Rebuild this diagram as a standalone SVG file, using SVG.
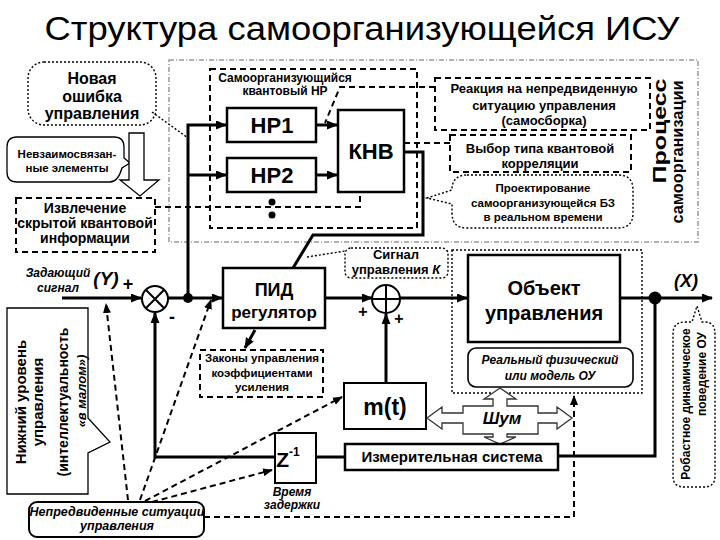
<svg xmlns="http://www.w3.org/2000/svg" width="720" height="540" viewBox="0 0 720 540">
<defs>
<style>
text{font-family:'Liberation Sans',Arial,sans-serif;font-weight:bold;fill:#000;text-anchor:middle}
.t{font-weight:normal}
.i{font-style:italic}
.box{fill:#fff;stroke:#000;stroke-width:2.5}
.dash{fill:none;stroke:#000;stroke-width:2;stroke-dasharray:6 4}
.dot{fill:none;stroke:#000;stroke-width:1.4;stroke-dasharray:2 2}
.gray{fill:none;stroke:#999;stroke-width:1.5;stroke-dasharray:5 2 1 2}
.thin{fill:#fff;stroke:#000;stroke-width:1.3}
.w{fill:none;stroke:#000;stroke-width:3}
</style>
<marker id="ah" markerUnits="userSpaceOnUse" markerWidth="11" markerHeight="9" refX="10" refY="4.5" orient="auto"><path d="M0,0 L11,4.5 L0,9 Z"/></marker>
<marker id="ad" markerUnits="userSpaceOnUse" markerWidth="10" markerHeight="8" refX="9" refY="4" orient="auto"><path d="M0,0 L10,4 L0,8 Z"/></marker>
</defs>
<rect width="720" height="540" fill="#fff"/>
<text class="t" x="362" y="40" font-size="34" textLength="635" lengthAdjust="spacingAndGlyphs">Структура самоорганизующейся ИСУ</text>

<g id="process-area">
<rect class="gray" x="169" y="60" width="529" height="182"/>
<text transform="translate(660,131) rotate(-90)" dy=".35em" font-size="18" textLength="105" lengthAdjust="spacingAndGlyphs">Процесс</text>
<text transform="translate(677,152) rotate(-90)" dy=".35em" font-size="16" textLength="143" lengthAdjust="spacingAndGlyphs">самоорганизации</text>
</g>

<g id="connectors">
<!-- main forward path -->
<line class="w" x1="62" y1="298" x2="141" y2="298" marker-end="url(#ah)"/>
<line class="w" x1="168" y1="298" x2="222" y2="298" marker-end="url(#ah)"/>
<polyline class="w" points="188,298 188,125 226,125" marker-end="url(#ah)"/>
<line class="w" x1="188" y1="175" x2="226" y2="175" marker-end="url(#ah)"/>
<line class="w" x1="316" y1="125" x2="337" y2="125" marker-end="url(#ah)"/>
<line class="w" x1="316" y1="175" x2="337" y2="175" marker-end="url(#ah)"/>
<polyline class="w" points="404,152 423,152 423,235 313,235 293,268"/>
<line class="w" x1="325" y1="298" x2="372" y2="298" marker-end="url(#ah)"/>
<line class="w" x1="400" y1="298" x2="467" y2="298" marker-end="url(#ah)"/>
<line class="w" x1="620" y1="298" x2="712" y2="298" marker-end="url(#ah)"/>
<polyline class="w" points="655,298 655,456 558,456"/>
<line class="w" x1="345" y1="457" x2="316" y2="457"/>
<polyline class="w" points="275,457 155,457 155,313" marker-end="url(#ah)"/>
<line class="w" x1="386" y1="383" x2="386" y2="314" marker-end="url(#ah)"/>
<line class="w" x1="255" y1="330" x2="245" y2="348" marker-end="url(#ah)"/>
<circle cx="188" cy="298" r="5"/>
<circle cx="655" cy="298" r="6.5"/>
<!-- dashed information links -->
<polyline class="dash" points="435,87 340,87 325,123"/>
<line class="dash" x1="450" y1="143" x2="405" y2="143"/>
<polyline class="dash" points="155,207 360,207 360,193"/>
<line class="dash" x1="128" y1="500" x2="106" y2="304" marker-end="url(#ad)"/>
<line class="dash" x1="140" y1="500" x2="211" y2="300" marker-end="url(#ad)"/>
<line class="dash" x1="145" y1="501" x2="342" y2="397" marker-end="url(#ad)"/>
<line class="dash" x1="152" y1="502" x2="272" y2="470" marker-end="url(#ad)"/>
<polyline class="dash" points="204,517 574,517 574,396" marker-end="url(#ad)"/>
</g>

<g id="sum1">
<circle cx="155" cy="299" r="13" fill="#fff" stroke="#000" stroke-width="2"/>
<path d="M145.8,289.8 L164.2,308.2 M145.8,308.2 L164.2,289.8" stroke="#000" stroke-width="2"/>
</g>
<g id="sum2">
<circle cx="386" cy="299" r="14" fill="#fff" stroke="#000" stroke-width="2"/>
<path d="M372,299 H400 M386,285 V313" stroke="#000" stroke-width="2"/>
</g>

<g id="new-error">
<rect class="dot" x="28" y="62" width="128" height="63" rx="16"/>
<line class="dot" x1="152" y1="112" x2="188" y2="138"/>
<text x="92" y="84" font-size="16">Новая</text>
<text x="92" y="102" font-size="16">ошибка</text>
<text x="92" y="119" font-size="16">управления</text>
</g>

<g id="independent">
<path class="thin" d="M17,137 H114 Q124,137 124,147 V158 L130,163 L122,168 Q118,182 110,182 H17 Q7,182 7,172 V147 Q7,137 17,137 Z"/>
<text x="67" y="158" font-size="11.5">Невзаимосвязан-</text>
<text x="67" y="172" font-size="11.5">ные элементы</text>
</g>

<g id="down-arrow">
<polygon class="thin" points="129,133 144,133 144,180 159,180 140,196 120,180 129,180"/>
</g>

<g id="extract">
<rect class="dash" x="16" y="198" width="139" height="54"/>
<text x="85" y="213" font-size="14">Извлечение</text>
<text x="85" y="228" font-size="14">скрытой квантовой</text>
<text x="85" y="243" font-size="14">информации</text>
</g>

<g id="quantum-nr">
<rect class="dash" x="210" y="69" width="207" height="159"/>
<text x="285" y="82" font-size="12">Самоорганизующийся</text>
<text x="285" y="95" font-size="12">квантовый НР</text>
<circle cx="272" cy="202" r="3.5"/>
<circle cx="272" cy="215" r="3.5"/>
</g>
<g id="nr1">
<rect class="box" x="227" y="108" width="89" height="34"/>
<text x="272" y="133" font-size="22">НР1</text>
</g>
<g id="nr2">
<rect class="box" x="227" y="158" width="89" height="34"/>
<text x="272" y="183" font-size="22">НР2</text>
</g>
<g id="knv">
<rect class="box" x="338" y="110" width="66" height="82" stroke-width="3.5"/>
<text x="371" y="159" font-size="22">КНВ</text>
</g>

<g id="reaction">
<rect class="dash" x="435" y="78" width="215" height="52"/>
<text x="544" y="93" font-size="13">Реакция на непредвиденную</text>
<text x="544" y="110" font-size="13">ситуацию управления</text>
<text x="544" y="125" font-size="13">(самосборка)</text>
</g>
<g id="correlation">
<rect class="dash" x="450" y="135" width="181" height="37"/>
<text x="540" y="153" font-size="13">Выбор типа квантовой</text>
<text x="540" y="168" font-size="13">корреляции</text>
</g>
<g id="design-kb">
<path class="dot" d="M467,175 H618 Q633,175 633,190 V213 Q633,228 618,228 H467 Q452,228 452,213 V204 L427,198 L452,190 Q452,175 467,175 Z"/>
<text x="543" y="192" font-size="11.5">Проектирование</text>
<text x="543" y="207" font-size="11.5">самоорганизующейся БЗ</text>
<text x="543" y="221" font-size="11.5">в реальном времени</text>
</g>

<g id="input-labels">
<text class="i" x="58" y="277" font-size="12">Задающий</text>
<text class="i" x="58" y="292" font-size="12">сигнал</text>
<text class="i" x="106" y="285" font-size="19">(Y)</text>
<text x="128" y="290" font-size="18">+</text>
<text x="172" y="323" font-size="18">-</text>
<text x="363" y="317" font-size="16">+</text>
<text x="399" y="324" font-size="16">+</text>
</g>

<g id="pid">
<rect class="box" x="223" y="268" width="102" height="60"/>
<text x="274" y="296" font-size="18">ПИД</text>
<text x="274" y="318" font-size="17">регулятор</text>
</g>

<g id="control-signal">
<rect class="dot" x="345" y="248" width="103" height="30" rx="6"/>
<line class="dot" x1="307" y1="257" x2="345" y2="251"/>
<text x="396" y="259" font-size="13">Сигнал</text>
<text x="396" y="274" font-size="13">управления <tspan class="i">К</tspan></text>
</g>

<g id="laws">
<rect class="dash" x="200" y="350" width="123" height="47"/>
<text x="262" y="362" font-size="11.5">Законы управления</text>
<text x="262" y="377" font-size="11.5">коэффициентами</text>
<text x="262" y="391" font-size="11.5">усиления</text>
</g>

<g id="plant">
<rect class="dot" x="452" y="250" width="190" height="143"/>
<rect class="box" x="468" y="255" width="152" height="87" stroke-width="3"/>
<text x="544" y="295" font-size="20">Объект</text>
<text x="544" y="320" font-size="20">управления</text>
<rect x="468" y="348" width="165" height="39" rx="8" fill="#fff" stroke="#000" stroke-width="1.6"/>
<text class="i" x="550" y="364" font-size="12">Реальный физический</text>
<text class="i" x="550" y="380" font-size="12">или модель ОУ</text>
</g>
<text class="i" x="686" y="287" font-size="18">(X)</text>

<g id="robust">
<path class="dot" d="M685,322 H692 L697,306 L702,322 H705 Q715,322 715,334 V476 Q715,487 704,487 H684 Q673,487 673,476 V334 Q673,322 685,322 Z"/>
<text transform="translate(686,404) rotate(-90)" dy=".35em" font-size="12">Робастное динамическое</text>
<text transform="translate(702,374) rotate(-90)" dy=".35em" font-size="12">поведение ОУ</text>
</g>

<g id="mt">
<rect x="344" y="383" width="82" height="46" fill="#fff" stroke="#000" stroke-width="2"/>
<text x="385" y="415" font-size="23">m(t)</text>
</g>

<g id="noise">
<polygon fill="#fff" stroke="#333" stroke-width="1.3" points="427,418 442,407 442,413 463,413 463,406 493,406 493,399 484,399 500,388 516,399 507,399 507,406 538,406 538,413 557,413 557,407 572,418 557,429 557,423 538,423 538,434 507,434 507,437 516,437 500,444 484,437 493,437 493,434 463,434 463,423 442,423 442,429"/>
<text class="i" x="502" y="424" font-size="17">Шум</text>
</g>

<g id="measure">
<rect class="box" x="345" y="444" width="213" height="26" stroke-width="3"/>
<text x="452" y="462" font-size="15">Измерительная система</text>
</g>

<g id="delay">
<rect x="275" y="433" width="41" height="50" fill="#fff" stroke="#000" stroke-width="2"/>
<text x="288" y="467" font-size="21">Z<tspan font-size="12" dy="-11">-1</tspan></text>
<text class="i" x="292" y="496" font-size="12">Время</text>
<text class="i" x="292" y="509" font-size="12">задержки</text>
</g>

<g id="lower-level">
<path class="thin" d="M7,308 H88 V418 L110,442 L88,453 V494 H7 Z"/>
<text transform="translate(21,402) rotate(-90)" dy=".35em" font-size="15">Нижний уровень</text>
<text transform="translate(38,402) rotate(-90)" dy=".35em" font-size="15">управления</text>
<text transform="translate(63,402) rotate(-90)" dy=".35em" font-size="14">(интеллектуальность</text>
<text class="i" transform="translate(81,391) rotate(-90)" dy=".35em" font-size="13">«в малом»)</text>
</g>

<g id="unforeseen">
<rect x="29" y="502" width="175" height="35" rx="8" fill="#fff" stroke="#000" stroke-width="2"/>
<text class="i" x="117" y="516" font-size="12.5">Непредвиденные ситуации</text>
<text class="i" x="117" y="530" font-size="12.5">управления</text>
</g>
</svg>
